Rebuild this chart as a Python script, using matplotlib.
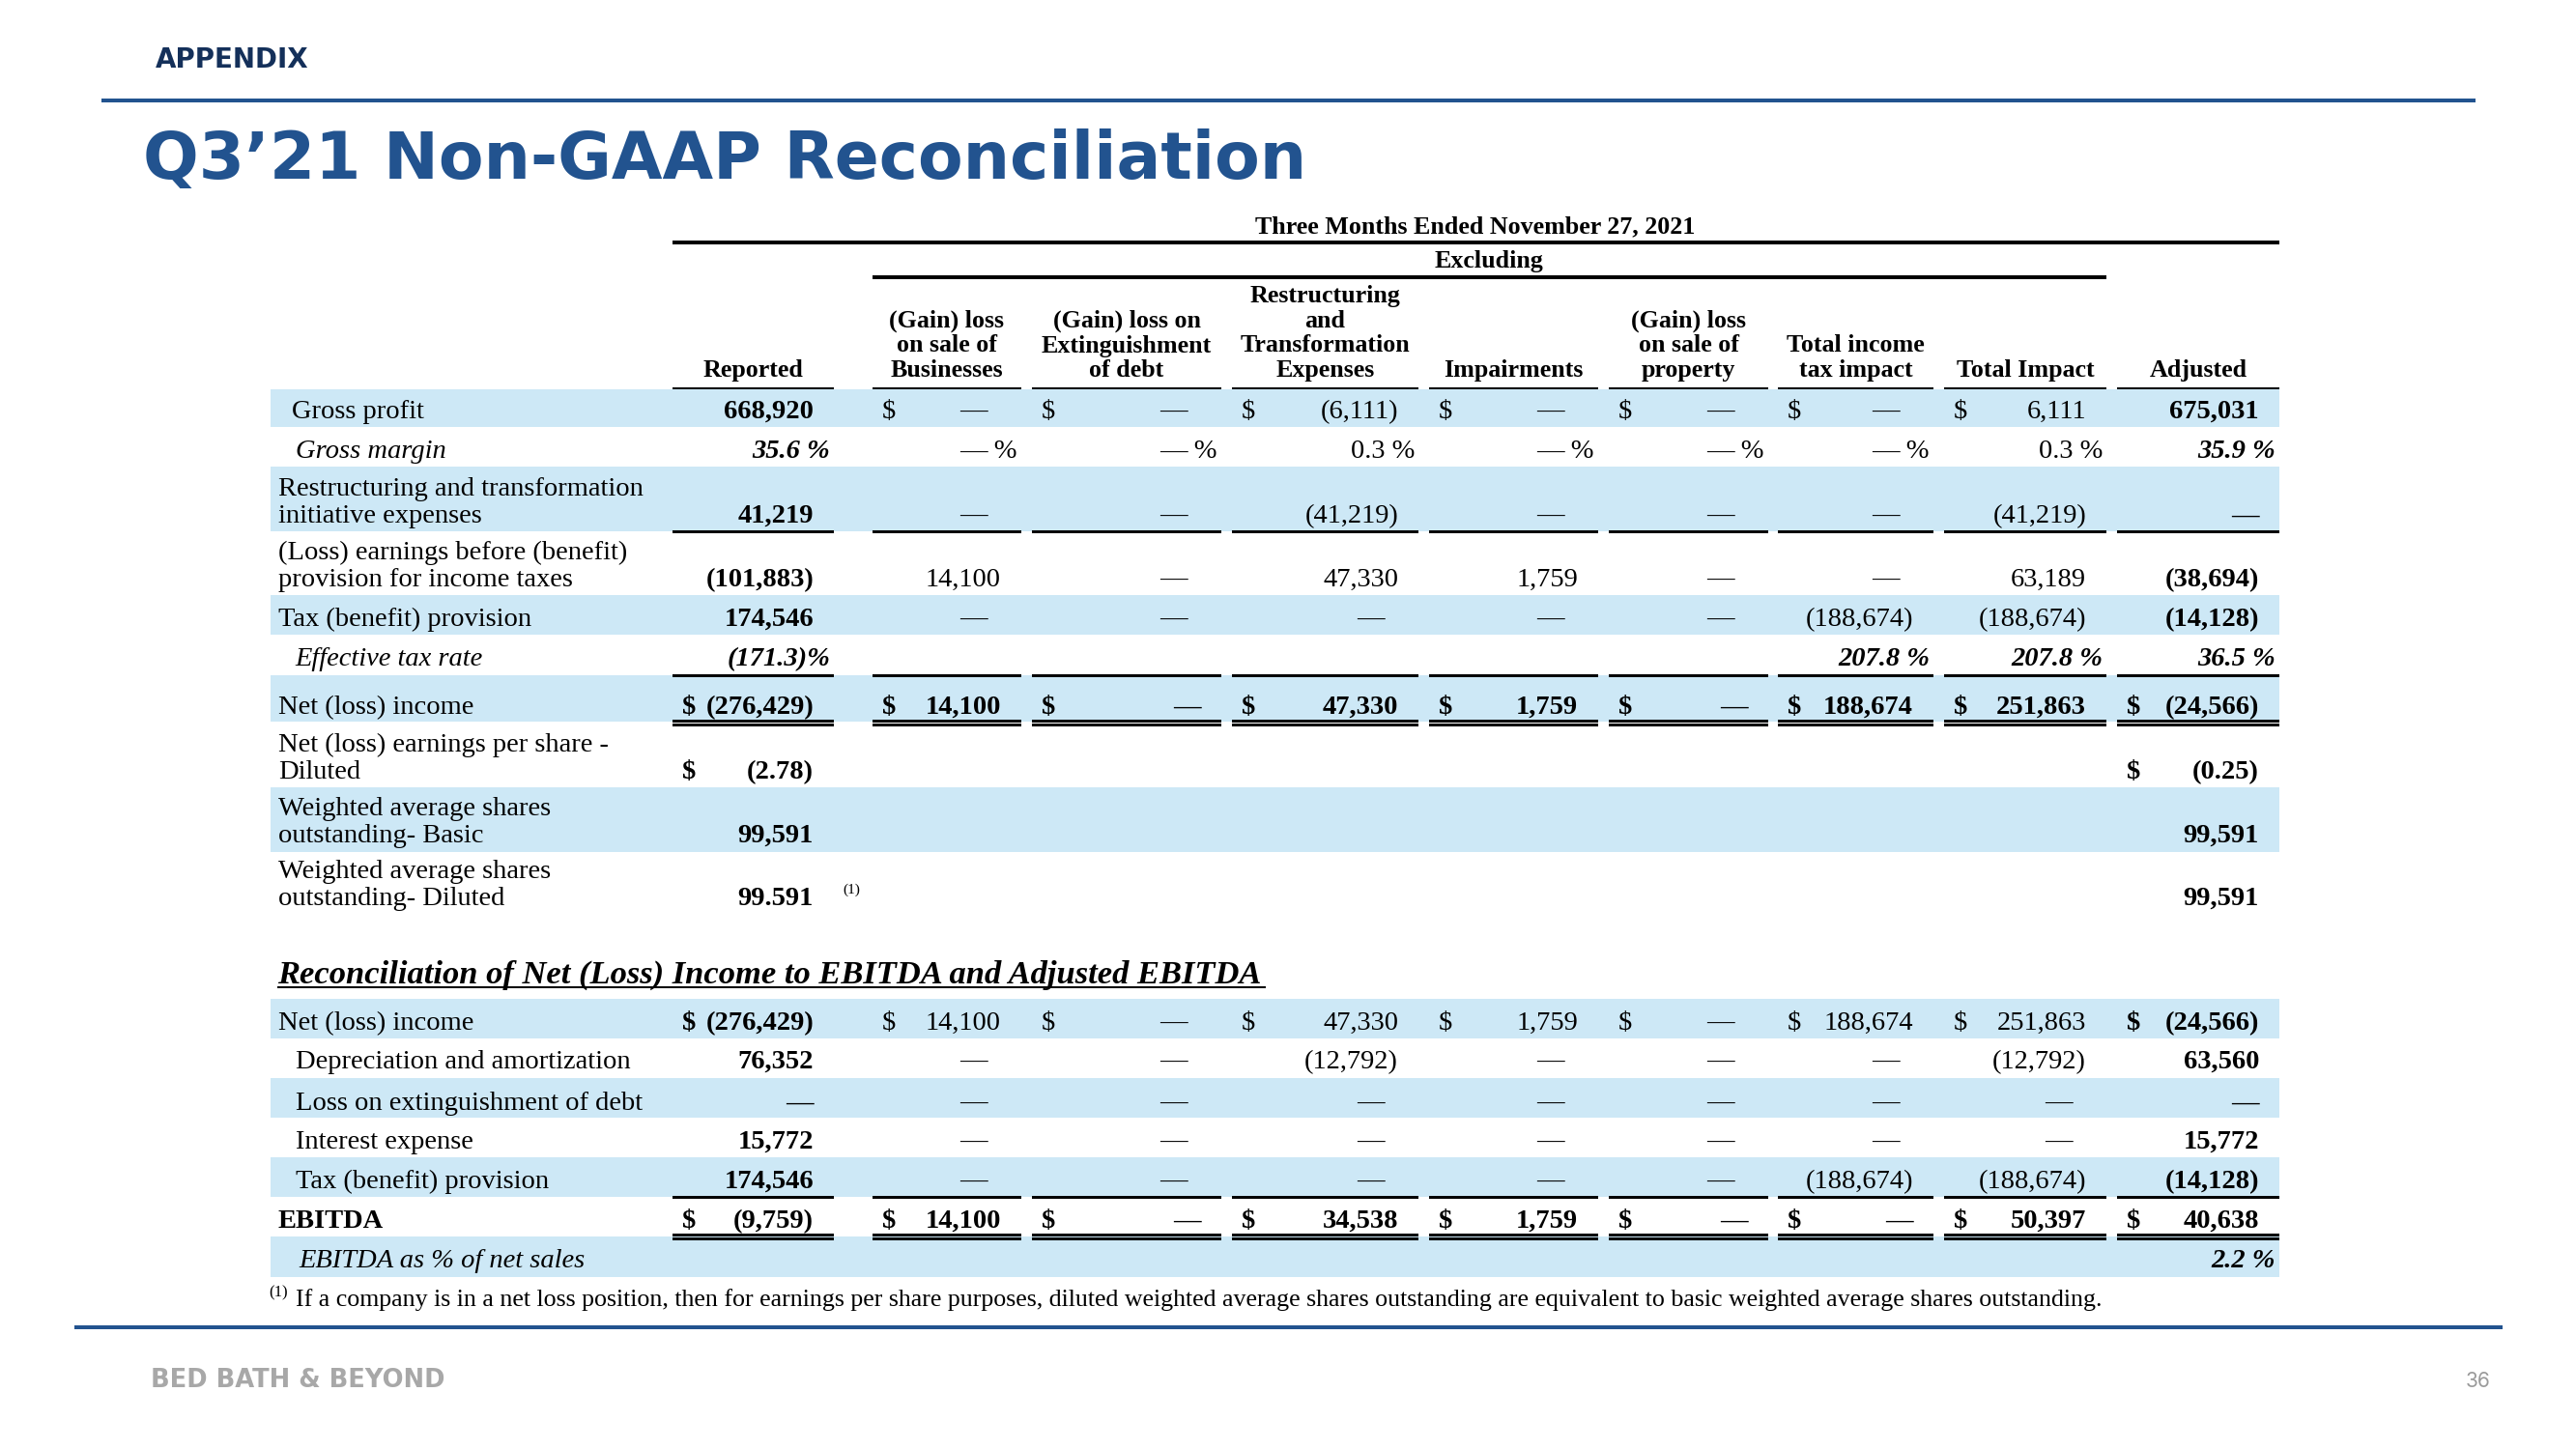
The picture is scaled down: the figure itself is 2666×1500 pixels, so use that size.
import matplotlib.pyplot as plt
from matplotlib.patches import Rectangle

# --- dati della tabella ---
D = "—"
columns = ["Reported",
           "(Gain) loss\non sale of\nBusinesses",
           "(Gain) loss on\nExtinguishment\nof debt",
           "Restructuring\nand\nTransformation\nExpenses",
           "Impairments",
           "(Gain) loss\non sale of\nproperty",
           "Total income\ntax impact",
           "Total Impact",
           "Adjusted"]

gross_profit = ["668,920", D, D, "(6,111)", D, D, D, "6,111", "675,031"]
gross_margin = ["35.6 %", "— %", "— %", "0.3 %", "— %", "— %", "— %", "0.3 %", "35.9 %"]
restructuring = ["41,219", D, D, "(41,219)", D, D, D, "(41,219)", D]
pretax_income = ["(101,883)", "14,100", D, "47,330", "1,759", D, D, "63,189", "(38,694)"]
tax_provision = ["174,546", D, D, D, D, D, "(188,674)", "(188,674)", "(14,128)"]
effective_tax = ["(171.3)%", "", "", "", "", "", "207.8 %", "207.8 %", "36.5 %"]
net_income = ["(276,429)", "14,100", D, "47,330", "1,759", D, "188,674", "251,863", "(24,566)"]
eps_diluted = ["(2.78)", "", "", "", "", "", "", "", "(0.25)"]
shares_basic = ["99,591", "", "", "", "", "", "", "", "99,591"]
shares_diluted = ["99.591", "", "", "", "", "", "", "", "99,591"]

depreciation = ["76,352", D, D, "(12,792)", D, D, D, "(12,792)", "63,560"]
loss_extinguishment = [D, D, D, D, D, D, D, D, D]
interest_expense = ["15,772", D, D, D, D, D, D, D, "15,772"]
ebitda = ["(9,759)", "14,100", D, "34,538", "1,759", D, D, "50,397", "40,638"]
ebitda_pct = ["", "", "", "", "", "", "", "", "2.2 %"]

NONE_USD = []
ALL_USD = list(range(9))
MID_USD = list(range(1, 8))
RA_USD = [0, 8]

# (etichetta, valori, colonne con $, stile)
section1 = [
    (["Gross profit"], gross_profit, MID_USD, "ra"),
    (["Gross margin"], gross_margin, NONE_USD, "pct"),
    (["Restructuring and transformation", "initiative expenses"], restructuring, NONE_USD, "ra"),
    (["(Loss) earnings before (benefit)", "provision for income taxes"], pretax_income, NONE_USD, "ra"),
    (["Tax (benefit) provision"], tax_provision, NONE_USD, "ra"),
    (["Effective tax rate"], effective_tax, NONE_USD, "pct_all"),
    (["Net (loss) income"], net_income, ALL_USD, "all"),
    (["Net (loss) earnings per share -", "Diluted"], eps_diluted, RA_USD, "ra"),
    (["Weighted average shares", "outstanding- Basic"], shares_basic, NONE_USD, "ra"),
    (["Weighted average shares", "outstanding- Diluted"], shares_diluted, NONE_USD, "ra"),
]
section2 = [
    (["Net (loss) income"], net_income, ALL_USD, "ra"),
    (["Depreciation and amortization"], depreciation, NONE_USD, "ra"),
    (["Loss on extinguishment of debt"], loss_extinguishment, NONE_USD, "ra"),
    (["Interest expense"], interest_expense, NONE_USD, "ra"),
    (["Tax (benefit) provision"], tax_provision, NONE_USD, "ra"),
    (["EBITDA"], ebitda, ALL_USD, "all_label"),
    (["EBITDA as % of net sales"], ebitda_pct, NONE_USD, "pct_all"),
]

# --- layout (pixel) ---
SERIF = "Liberation Serif"
SANS = "DejaVu Sans"
NAVY = "#14305a"
BLUE = "#22538f"
SHADE = "#cde8f6"
BODY = 20.5
HEAD = 18.7

col_left = [696, 903, 1068, 1275, 1479, 1665, 1840, 2012, 2191]
col_right = [863, 1057, 1264, 1468, 1654, 1830, 2001, 2180, 2359]

sec1_bands = [(403, 442), (442, 483), (483, 550), (550, 616), (616, 657),
              (657, 699), (699, 747), (751, 815), (815, 882), (882, 947)]
sec1_y = [424, 465, 532, 598, 639, 680, 730, 797, 863, 928]
sec1_x = [302, 306, 288, 288, 288, 305, 288, 288, 288, 288]
sec2_bands = [(1034, 1075), (1075, 1116), (1116, 1157), (1157, 1198),
              (1198, 1239), (1240, 1280), (1280, 1322)]
sec2_y = [1057, 1097, 1140, 1180, 1221, 1262, 1303]
sec2_x = [288, 306, 306, 306, 306, 288, 309]

fig = plt.figure(figsize=(26.66, 15), dpi=100)
ax = fig.add_axes([0, 0, 1, 1])
ax.set_xlim(0, 2666)
ax.set_ylim(1500, 0)
ax.axis("off")


def testo(x, y, s, size=BODY, weight="normal", style="normal", ha="left", color="black", family=SERIF):
    ax.text(x, y, s, fontsize=size, fontweight=weight, fontstyle=style, ha=ha,
            va="baseline", color=color, family=family)


def barra(x0, x1, y, h, color="black"):
    ax.add_patch(Rectangle((x0, y), x1 - x0, h, color=color, lw=0))


def regole(y, doppia=False):
    for a, b in zip(col_left, col_right):
        if doppia:
            barra(a, b, y, 2.6)
            barra(a, b, y + 4.2, 2.6)
        else:
            barra(a, b, y - 1.5, 3.2)


def disegna(sezione, bands, ys, xs):
    shaded = [0, 2, 4, 6, 8]
    for i, (label, values, usd, stile) in enumerate(sezione):
        top, bottom = bands[i]
        if i in shaded:
            barra(280, 2359, top, bottom - top, SHADE)
        y = ys[i] + 9
        italic = stile.startswith("pct")
        lab_w = "bold" if stile == "all_label" else "normal"
        for k, riga in enumerate(label):
            testo(xs[i], y - 28 * (len(label) - 1 - k), riga, weight=lab_w,
                  style="italic" if italic else "normal")
        for c, v in enumerate(values):
            if v == "":
                continue
            bold = stile in ("all", "all_label", "pct_all") or c in (0, 8)
            w = "bold" if bold else "normal"
            st = "italic" if (italic and bold) else "normal"
            if c in usd:
                testo(col_left[c] + 10, y, "$", weight=w)
            if "%" in v:
                xr = col_right[c] - 4
            elif v == D and not bold:
                xr = col_right[c] - 35
            else:
                xr = col_right[c] - 21
            testo(xr, y, v, weight=w, style=st, ha="right")


# --- intestazione slide ---
testo(161, 70, "APPENDIX", size=20, weight="bold", color=NAVY, family=SANS)
barra(105, 2562, 102, 3.5, BLUE)
testo(148, 185, "Q3’21 Non-GAAP Reconciliation", size=49, weight="bold", color=BLUE, family=SANS)

# --- intestazione tabella ---
testo(1527, 241, "Three Months Ended November 27, 2021", size=HEAD, weight="bold", ha="center")
barra(696, 2359, 249, 3.5)
testo(1541, 277, "Excluding", size=HEAD, weight="bold", ha="center")
barra(903, 2180, 285, 4)
for c, nome in enumerate(columns):
    righe = nome.split("\n")
    cx = (col_left[c] + col_right[c]) / 2
    for k, r in enumerate(righe):
        testo(cx, 390 - 25.5 * (len(righe) - 1 - k), r, size=HEAD, weight="bold", ha="center")
regole(402)

# --- sezione 1 ---
disegna(section1, sec1_bands, sec1_y, sec1_x)
regole(550)
regole(699)
regole(745, doppia=True)
testo(872, 925, "(1)", size=11)

# --- sezione 2 ---
testo(287, 1018, "Reconciliation of Net (Loss) Income to EBITDA and Adjusted EBITDA",
      size=24.8, weight="bold", style="italic")
barra(287, 1310, 1021, 2.2)
disegna(section2, sec2_bands, sec2_y, sec2_x)
regole(1239)
regole(1277, doppia=True)

# --- nota ---
testo(278, 1342, "(1)", size=12)
testo(306, 1352, "If a company is in a net loss position, then for earnings per share purposes, "
      "diluted weighted average shares outstanding are equivalent to basic weighted average shares outstanding.",
      size=18.6)

# --- piè di pagina ---
barra(77, 2590, 1372, 4, BLUE)
testo(156, 1436, "BED BATH & BEYOND", size=18.5, weight="bold", color="#a8a8a8", family=SANS)
testo(2578, 1436, "36", size=15, color="#9a9a9a", family="Inter", ha="right")

fig.savefig("out.png", dpi=100)
